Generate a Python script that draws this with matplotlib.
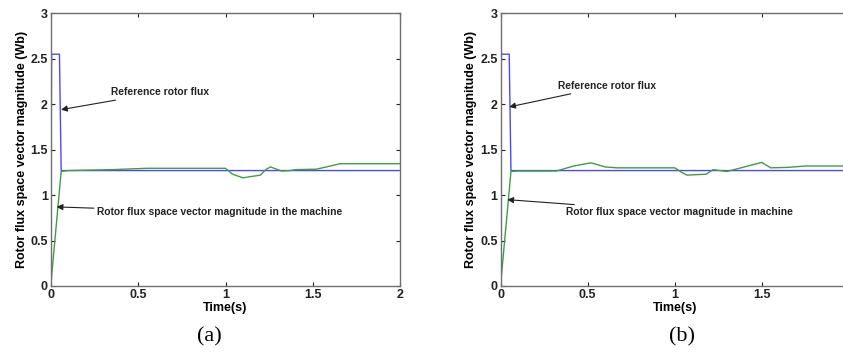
import numpy as np
import matplotlib
matplotlib.use("Agg")
import matplotlib.pyplot as plt

# ---- data ----
# reference rotor flux (same command in both runs)
t_ref = [0.0, 0.005, 0.05, 0.06, 2.0]
flux_ref = [0.0, 2.55, 2.55, 1.27, 1.27]

# (a) machine rotor flux magnitude
t_a = [0.0, 0.06, 0.1, 0.35, 0.55, 1.0, 1.04, 1.1, 1.2, 1.23, 1.257, 1.32, 1.37,
       1.4, 1.52, 1.6, 1.655, 2.0]
flux_a = [0.0, 1.26, 1.27, 1.28, 1.295, 1.295, 1.23, 1.19, 1.22, 1.28, 1.31, 1.265, 1.27,
          1.28, 1.285, 1.32, 1.345, 1.345]

# (b) machine rotor flux magnitude
t_b = [0.0, 0.06, 0.1, 0.32, 0.42, 0.52, 0.6, 0.67, 1.0, 1.04, 1.07, 1.18, 1.22,
       1.3, 1.38, 1.5, 1.55, 1.65, 1.75, 2.0]
flux_b = [0.0, 1.26, 1.265, 1.265, 1.32, 1.355, 1.31, 1.30, 1.30, 1.25, 1.22, 1.23, 1.28,
          1.26, 1.30, 1.36, 1.30, 1.305, 1.32, 1.32]

xticks = [0, 0.5, 1, 1.5, 2]
yticks = [0, 0.5, 1, 1.5, 2, 2.5, 3]
xticklabels = [["0", "0.5", "1", "1.5", "2"], ["0", "0.5", "1", "1.5", ""]]
panel_tags = ["(a)", "(b)"]
ref_text = "Reference rotor flux"
mach_texts = ["Rotor flux space vector magnitude in the machine",
              "Rotor flux space vector magnitude in machine"]

# annotation anchors: (text x, text y, arrow tip x, arrow tip y)
ref_ann = [(0.345, 2.13, 0.059, 1.94), (0.332, 2.20, 0.050, 1.97)]
mach_ann = [(0.263, 0.81, 0.034, 0.87), (0.376, 0.81, 0.039, 0.95)]

plt.rcParams["font.family"] = ["Liberation Sans", "DejaVu Sans"]

W, H = 843, 353
fig = plt.figure(figsize=(W / 100, H / 100), dpi=100)

# axes boxes in pixels: left, right, top, bottom (second one runs past the edge)
boxes = [(50.7, 400.3, 13.3, 286.0), (500.5, 849.0, 13.3, 286.0)]
series = [(t_a, flux_a), (t_b, flux_b)]
tag_x = [209, 682]

for i, (l, r, t, b) in enumerate(boxes):
    ax = fig.add_axes([l / W, 1 - b / H, (r - l) / W, (b - t) / H])
    ax.plot(t_ref, flux_ref, color="#4a4af5", lw=1.0)
    ax.plot(series[i][0], series[i][1], color="#3f9f3f", lw=1.0)
    ax.set_xlim(0, 2)
    ax.set_ylim(0, 3)
    ax.set_xticks(xticks)
    ax.set_xticklabels(xticklabels[i])
    ax.set_yticks(yticks)
    ax.set_yticklabels([f"{v:g}" for v in yticks])
    ax.tick_params(direction="in", length=3, width=0.8, top=True, right=True,
                   labelsize=9, colors="#222222", pad=2)
    for lab in ax.get_xticklabels() + ax.get_yticklabels():
        lab.set_fontweight("bold")
    for sp in ax.spines.values():
        sp.set_color("#707070")
        sp.set_linewidth(1.0)
    ax.set_xlabel("Time(s)", fontsize=9, fontweight="bold", labelpad=1)
    ax.set_ylabel("Rotor flux space vector magnitude (Wb)", fontsize=9,
                  fontweight="bold", labelpad=2)

    for txt, (tx, ty, px, py) in ((ref_text, ref_ann[i]), (mach_texts[i], mach_ann[i])):
        ax.annotate(txt, xy=(px, py), xytext=(tx, ty), fontsize=7.4,
                    fontweight="bold", color="#222222", ha="left", va="center",
                    arrowprops=dict(arrowstyle="-|>", color="#222222", lw=0.8,
                                    mutation_scale=9, shrinkA=0, shrinkB=0))

    fig.text(tag_x[i] / W, 1 - 337 / H, panel_tags[i], fontsize=16,
             family=["Liberation Serif", "DejaVu Serif"], ha="center", va="center")

fig.savefig("out.png", dpi=100)
